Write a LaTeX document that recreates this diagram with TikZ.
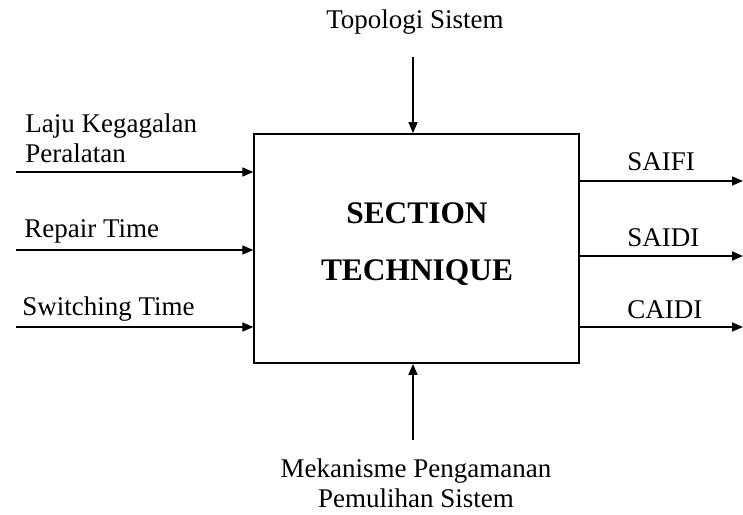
\documentclass[tikz,border=0pt]{standalone}
\usepackage{fontspec}
\setmainfont{Liberation Serif}
\usetikzlibrary{arrows.meta}
\begin{document}
\begin{tikzpicture}[x=0.5pt,y=-0.5pt,
  conn/.style={line width=0.8pt,-{Triangle[length=5.5pt,width=4.5pt]}},
  lbl/.style={inner sep=0pt,font=\fontsize{13.5}{15}\selectfont},
  clbl/.style={lbl,align=center},
  boxstyle/.style={draw,line width=0.9pt,inner sep=0pt,minimum width=162.5pt,minimum height=114.5pt},
  titlestyle/.style={inner sep=0pt,align=center,font=\fontsize{15.7}{28.5}\selectfont\bfseries}]
\useasboundingbox (0,0) rectangle (743,514);
\node[boxstyle] (box) at (416.75,248.5) {};
\node[titlestyle] (title) at (417,244.5) {SECTION\\TECHNIQUE};
% labels
\node[lbl,anchor=base] (topo) at (415,28) {Topologi Sistem};
\node[clbl,anchor=base] (meka) at (416,507) {Mekanisme Pengamanan\\Pemulihan Sistem};
\node[lbl,anchor=base west,align=left] (laju) at (25,162) {Laju Kegagalan\\Peralatan};
\node[lbl,anchor=base west] (rep) at (24,237) {Repair Time};
\node[lbl,anchor=base west] (sw) at (22,315) {Switching Time};
\node[lbl,anchor=base west] (saifi) at (627,170) {SAIFI};
\node[lbl,anchor=base west] (saidi) at (627,246) {SAIDI};
\node[lbl,anchor=base west] (caidi) at (627,318) {CAIDI};
% free ends
\coordinate (i1) at (16,172);
\coordinate (i2) at (16,250);
\coordinate (i3) at (16,327);
\coordinate (o1) at (743,181);
\coordinate (o2) at (743,256);
\coordinate (o3) at (743,327);
\coordinate (t0) at (413,57);
\coordinate (b0) at (413,440);
% connectors
\draw[conn] (i1) -- (i1 -| box.west);
\draw[conn] (i2) -- (i2 -| box.west);
\draw[conn] (i3) -- (i3 -| box.west);
\draw[conn] (o1 -| box.east) -- (o1);
\draw[conn] (o2 -| box.east) -- (o2);
\draw[conn] (o3 -| box.east) -- (o3);
\draw[conn] (t0) -- (t0 |- box.north);
\draw[conn] (b0) -- (b0 |- box.south);
\end{tikzpicture}
\end{document}
